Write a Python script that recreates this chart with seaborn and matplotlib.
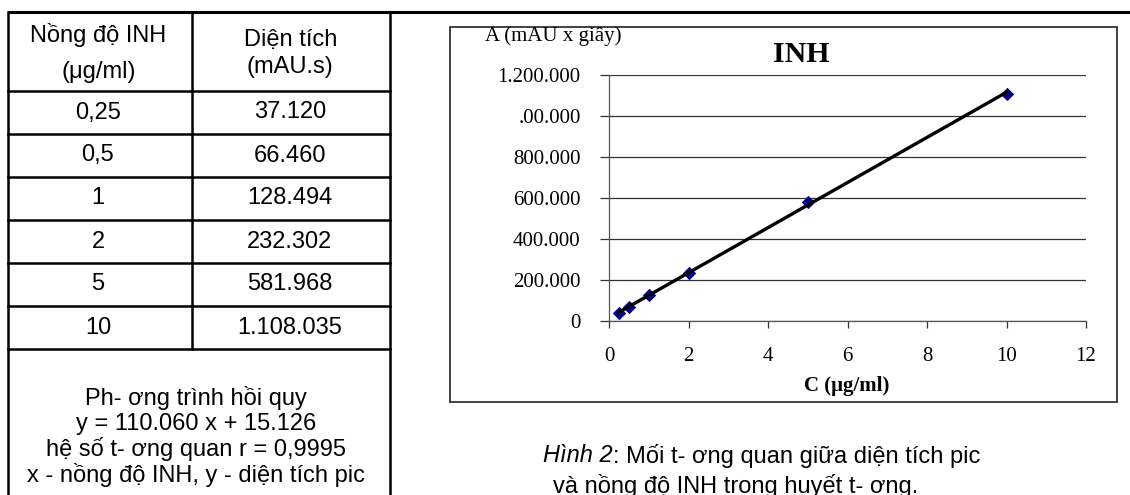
import matplotlib
matplotlib.use("Agg")
import matplotlib.pyplot as plt
import seaborn as sns
from matplotlib.patches import Rectangle

# du lieu bang va do thi
conc_labels = ["0,25", "0,5", "1", "2", "5", "10"]
area_labels = ["37.120", "66.460", "128.494", "232.302", "581.968", "1.108.035"]
conc = [0.25, 0.5, 1, 2, 5, 10]
area = [37120, 66460, 128494, 232302, 581968, 1108035]

y_ticks = [0, 200000, 400000, 600000, 800000, 1000000, 1200000]
y_tick_labels = ["0", "200.000", "400.000", "600.000", "800.000", ".00.000", "1.200.000"]
x_ticks = [0, 2, 4, 6, 8, 10, 12]

header_1 = ["Nồng độ INH", "(μg/ml)"]
header_2 = ["Diện tích", "(mAU.s)"]
note_lines = ["Ph- ơng trình hồi quy",
              "y = 110.060 x + 15.126",
              "hệ số t- ơng quan r = 0,9995",
              "x - nồng độ INH, y - diện tích pic"]
caption_italic = "Hình 2"
caption_rest = ": Mối t- ơng quan giữa diện tích pic"
caption_line2 = "và nồng độ INH trong huyết t- ơng."

sans = ["Liberation Sans", "DejaVu Sans"]
serif = ["Liberation Serif", "DejaVu Serif"]

fig = plt.figure(figsize=(11.3, 4.95), dpi=100)
fig.patch.set_facecolor("white")

# lop nen theo toa do pixel
bg = fig.add_axes([0, 0, 1, 1])
bg.set_xlim(0, 1130)
bg.set_ylim(495, 0)
bg.axis("off")

lw_tab = 1.8
bg.plot([8, 1130], [12, 12], color="black", lw=2.2, solid_capstyle="butt")
bg.plot([8, 8], [12, 495], color="black", lw=lw_tab)
bg.plot([390, 390], [12, 495], color="black", lw=lw_tab)
bg.plot([192, 192], [12, 349], color="black", lw=lw_tab)
row_edges = [91, 134, 177, 220, 263, 306, 349]
for ye in row_edges:
    bg.plot([8, 390], [ye, ye], color="black", lw=lw_tab)

fs_tab = 17
bg.text(98, 35, header_1[0], ha="center", va="center", fontsize=fs_tab, family=sans)
bg.text(99, 72, header_1[1], ha="center", va="center", fontsize=fs_tab, family=sans)
bg.text(291, 40, header_2[0], ha="center", va="center", fontsize=fs_tab, family=sans)
bg.text(290, 67, header_2[1], ha="center", va="center", fontsize=fs_tab, family=sans)
for i, (c, a) in enumerate(zip(conc_labels, area_labels)):
    yc = (row_edges[i] + row_edges[i + 1]) / 2
    bg.text(98, yc, c, ha="center", va="center", fontsize=fs_tab, family=sans)
    bg.text(290, yc, a, ha="center", va="center", fontsize=fs_tab, family=sans)

for i, line in enumerate(note_lines):
    bg.text(196, 398 + i * 25.7, line, ha="center", va="center", fontsize=fs_tab, family=sans)

# khung do thi
bg.add_patch(Rectangle((450, 27), 667, 375, fill=False, edgecolor="#333333", lw=1.3))

# chu thich hinh
t1 = bg.text(543, 456, caption_italic, ha="left", va="center", fontsize=fs_tab,
             family=sans, style="italic")
bg.annotate(caption_rest, xy=(1, 0), xycoords=t1, ha="left", va="bottom",
            fontsize=fs_tab, family=sans)
bg.text(553, 486, caption_line2, ha="left", va="center", fontsize=fs_tab, family=sans)

# do thi chuan INH
ax = fig.add_axes([609 / 1130, 1 - 321 / 495, (1086 - 609) / 1130, (321 - 75) / 495])
ax.set_facecolor("none")
sns.regplot(x=conc, y=area, ax=ax, ci=None, marker="D",
            scatter_kws={"s": 40, "color": "#000080", "edgecolor": "#000080",
                         "linewidths": 0.5, "alpha": 1},
            line_kws={"color": "black", "lw": 2.4})
ax.set_xlim(0, 12)
ax.set_ylim(0, 1200000)
ax.set_xticks(x_ticks)
ax.set_xticklabels([str(v) for v in x_ticks], family=serif, fontsize=15)
ax.set_yticks(y_ticks)
ax.set_yticklabels(y_tick_labels, family=serif, fontsize=15)
ax.grid(axis="y", color="#333333", lw=0.9)
ax.set_axisbelow(True)
for s in ["top", "right"]:
    ax.spines[s].set_visible(False)
for s in ["left", "bottom"]:
    ax.spines[s].set_color("#555555")
    ax.spines[s].set_linewidth(0.9)
ax.tick_params(axis="y", length=6.5, width=0.9, color="#333333", pad=14)
ax.tick_params(axis="x", length=5, width=0.9, color="#333333", pad=14)
ax.set_xlabel("")
ax.set_ylabel("")

bg.text(553, 36, "A (mAU x giây)", ha="center", va="center", fontsize=15, family=serif)
bg.text(801, 55, "INH", ha="center", va="center", fontsize=21.5, family=serif,
        weight="bold")
bg.text(847, 386, "C (μg/ml)", ha="center", va="center", fontsize=15, family=serif,
        weight="bold")

fig.savefig("out.png", dpi=100)
